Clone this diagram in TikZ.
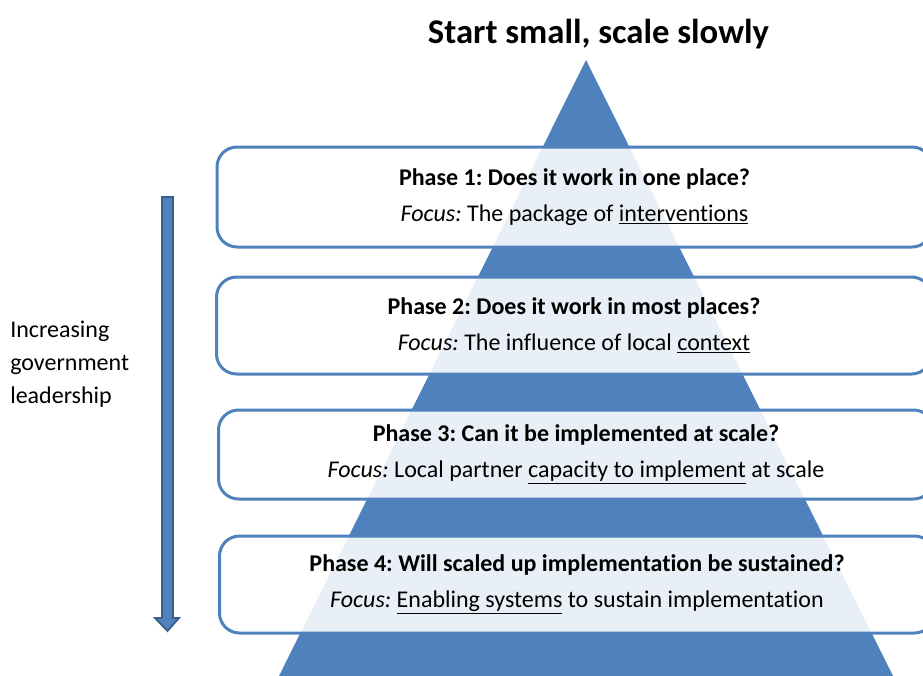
\documentclass[tikz,border=0pt]{standalone}
\usepackage{xcolor}
\usepackage{tikz}
\usetikzlibrary{shapes, arrows}
\usepackage{fontspec}
\setmainfont[RawFeature=-liga]{Carlito}
\frenchspacing

\definecolor{pyrblue}{HTML}{4F81BD}
\definecolor{pyrdark}{HTML}{385D8A}

\tikzset{
    phasebox/.style={draw=pyrblue, line width=2.25pt, rounded corners=15pt, fill=white, fill opacity=0.88, text opacity=1, minimum width=536.25pt, align=center, font=\fontsize{18}{27}\selectfont, inner sep=0pt},
}

\begin{document}
\begin{tikzpicture}[x=0.75pt,y=0.75pt,yscale=-1,xscale=1]

        \useasboundingbox (0,0) rectangle (923,675);
        \clip (0,0) rectangle (923,675);

        % pyramid
        \draw [fill=pyrblue, draw=none] (586,60) -- (893,676) -- (279,676) -- cycle ;

        % arrow
        \draw [fill=pyrblue, draw=pyrdark, line width=1.3pt] (162,197) -- (173,197) -- (173,618) -- (179,618) -- (167.5,631) -- (155,618) -- (162,618) -- cycle ;

        \node (title) at (598.5,34) {\fontsize{26}{30}\selectfont\bfseries Start small, scale slowly};

        \node (lead) [anchor=north west, inner sep=0pt, align=left, font=\fontsize{18}{24.75}\selectfont] at (10,321) {Increasing\\government\\leadership};

        \node (phaseA) [phasebox, minimum height=75pt] at (574.5,197) {\textbf{Phase 1: Does it work in one place?}\\\textit{Focus:} The package of \underline{interventions}};
        \node (phaseB) [phasebox, minimum height=72.75pt] at (574,325.5) {\textbf{Phase 2: Does it work in most places?}\\\textit{Focus:} The influence of local \underline{context}};
        \node (phaseC) [phasebox, minimum height=66.75pt] at (576,454.5) {\textbf{Phase 3: Can it be implemented at scale?}\\\textit{Focus:} Local partner \underline{capacity to implement} at scale};
        \node (phaseD) [phasebox, minimum height=72.75pt] at (577,584.5) {\textbf{Phase 4: Will scaled up implementation be sustained?}\\\textit{Focus:} \underline{Enabling systems} to sustain implementation};

    \end{tikzpicture}
\end{document}
